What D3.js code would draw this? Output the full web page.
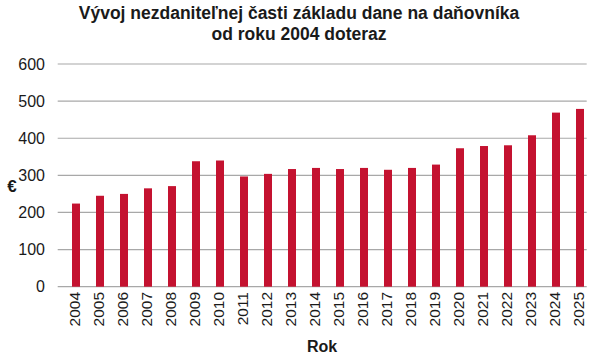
<!DOCTYPE html>
<html><head><meta charset="utf-8">
<script src="https://cdn.jsdelivr.net/npm/d3@7/dist/d3.min.js"></script>
<style>body{margin:0;background:#fff}svg{display:block}text{font-family:"Liberation Sans",Arial,sans-serif;fill:#1a1a1a}</style>
</head><body><svg id="c" width="600" height="364"></svg>
<script>
const years = ["2004","2005","2006","2007","2008","2009","2010","2011","2012","2013","2014","2015","2016","2017","2018","2019","2020","2021","2022","2023","2024","2025"];
const values = [224,245,250,265,271,338,340,297,304,317,320,317,320,315,320,329,373,379,381,408,469,479];
const yTicks = [0,100,200,300,400,500,600];
const titleLines = ["Vývoj nezdaniteľnej časti základu dane na daňovníka","od roku 2004 doteraz"];
const yLabel = "€";
const xLabel = "Rok";

const svg = d3.select("#c");
const x = d3.scaleBand().domain(years).range([64,592]).paddingInner(2/3).paddingOuter(1/3);
const y = d3.scaleLinear().domain([0,600]).range([286.7,64]);

svg.append("g").selectAll("line").data(yTicks).join("line")
  .attr("x1",57.7).attr("x2",586.7)
  .attr("y1",d=>y(d)).attr("y2",d=>y(d))
  .attr("stroke","#a8a8a8").attr("stroke-width",1.2);

svg.append("g").selectAll("text").data(yTicks).join("text")
  .attr("x",45).attr("y",d=>y(d)).attr("dy","0.36em")
  .attr("text-anchor","end").attr("font-size",16).text(d=>d);

svg.append("g").selectAll("rect").data(values).join("rect")
  .attr("x",(d,i)=>x(years[i])).attr("width",x.bandwidth())
  .attr("y",d=>y(d)).attr("height",d=>y(0)-y(d))
  .attr("fill","#c41230");

svg.append("g").selectAll("text").data(years).join("text")
  .attr("transform",d=>`translate(${x(d)+x.bandwidth()/2-1.5},292) rotate(-90)`)
  .attr("dy","0.36em").attr("text-anchor","end").attr("font-size",15.5).text(d=>d);

svg.append("g").selectAll("text").data(titleLines).join("text")
  .attr("x",299).attr("y",(d,i)=>18.5+i*21.5)
  .attr("text-anchor","middle").attr("font-size",17.5).attr("font-weight","bold").text(d=>d);

svg.append("text").attr("x",12).attr("y",192).attr("text-anchor","middle")
  .attr("font-size",17).attr("font-weight","bold").text(yLabel);
svg.append("text").attr("x",322).attr("y",351.5).attr("text-anchor","middle")
  .attr("font-size",16).attr("font-weight","bold").text(xLabel);
</script></body></html>
